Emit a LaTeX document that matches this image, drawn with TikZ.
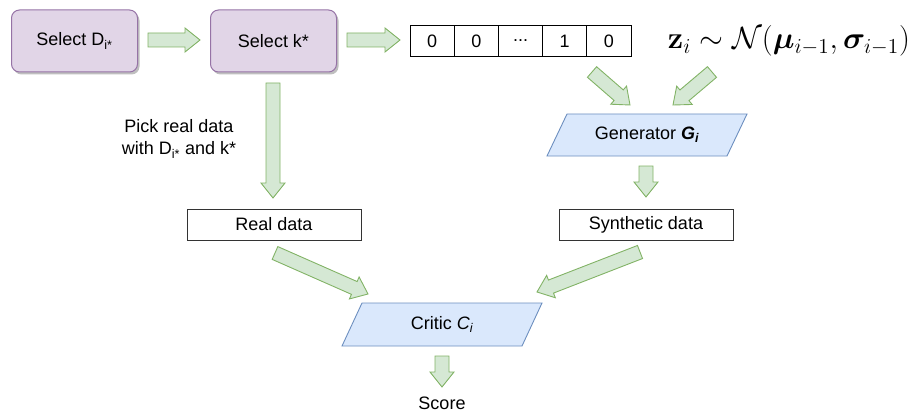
\documentclass[tikz,border=0pt]{standalone}
\usepackage{amsmath,bm}
\usepackage[no-math]{fontspec}
\setmainfont{Liberation Sans}
\usetikzlibrary{calc,shadows}
\definecolor{purfill}{HTML}{E1D5E7}
\definecolor{purline}{HTML}{9673A6}
\definecolor{bluefill}{HTML}{DAE8FC}
\definecolor{blueline}{HTML}{6C8EBF}
\definecolor{grfill}{HTML}{D5E8D4}
\definecolor{grline}{HTML}{82B366}
\tikzset{
  selbox/.style={draw=purline, fill=purfill, line width=1pt, rounded corners=8pt,
    minimum width=126pt, minimum height=62pt,
    drop shadow={shadow xshift=2pt, shadow yshift=-2.5pt, opacity=0.25, fill=black}},
  cell/.style={draw=black, line width=0.9pt, minimum width=44.2pt, minimum height=31pt, inner sep=0pt},
  databox/.style={draw=black!80, line width=0.9pt, minimum width=174pt, minimum height=31pt, inner sep=0pt},
  para/.style={draw=blueline, fill=bluefill, line width=0.9pt},
  barrowstyle/.style={draw=grline, fill=grfill, line width=0.9pt, line join=miter},
  lbl/.style={inner sep=0pt, align=center}
}
\newcommand{\barrow}[2]{%
  \coordinate (ba-hb) at ($(#2)!15pt!(#1)$);
  \draw[barrowstyle] ($(#1)!7pt!90:(#2)$) -- ($(ba-hb)!7pt!-90:(#1)$) -- ($(ba-hb)!12pt!-90:(#1)$)
    -- (#2) -- ($(ba-hb)!12pt!90:(#1)$) -- ($(ba-hb)!7pt!90:(#1)$) -- ($(#1)!7pt!-90:(#2)$) -- cycle;}
\newcommand{\parashape}[3]{% center, half width, half height ; slant 10
  \draw[para] ($(#1)+(-#2-10,#3)$) -- ($(#1)+(#2-10,#3)$) -- ($(#1)+(#2+10,-#3)$) -- ($(#1)+(-#2+10,-#3)$) -- cycle;}
\begin{document}
\begin{tikzpicture}[x=1pt, y=-1pt, font=\fontsize{18}{22}\selectfont]
\useasboundingbox (0,0) rectangle (914,412);
% top boxes
\node[selbox] (seld) at (74.5,41) {Select D\textsubscript{i*}};
\node[selbox] (selk) at (273.5,41) {Select k*};
% array
\node[cell] (c1) at (432.1,41) {0};
\node[cell] (c2) at (476.3,41) {0};
\node[cell] (c3) at (520.5,41) {{.}{.}{.}};
\node[cell] (c4) at (564.7,41) {1};
\node[cell] (c5) at (608.9,41) {0};
% formula
\node[lbl] (formula) at (789,41) {\resizebox{242pt}{!}{$\mathbf{z}_i \sim \mathcal{N}(\bm{\mu}_{i-1},\bm{\sigma}_{i-1})$}};
% generator
\coordinate (genc) at (647,135);
\parashape{genc}{90}{21}
\node[lbl] (gen) at (genc) {Generator \textbf{\textit{G\textsubscript{i}}}};
% data boxes
\node[databox] (real) at (274,224.5) {Real data};
\node[databox] (synth) at (646,224.5) {Synthetic data};
\node[lbl] (pick) at (179,139) {Pick real data\\with D\textsubscript{i*} and k*};
% critic
\coordinate (critc) at (442,324.5);
\parashape{critc}{90}{21.5}
\node[lbl] (critic) at (critc) {Critic \textit{C\textsubscript{i}}};
\node[lbl] (score) at (442,403) {Score};
% arrow endpoints
\coordinate (a1s) at (148,40); \coordinate (a1e) at (200,40);
\coordinate (a2s) at (347,40); \coordinate (a2e) at (400,40);
\coordinate (a3s) at (273,83); \coordinate (a3e) at (273,198);
\coordinate (a4s) at (592,72); \coordinate (a4e) at (630,105);
\coordinate (a5s) at (712,72); \coordinate (a5e) at (673,105);
\coordinate (a6s) at (646,166); \coordinate (a6e) at (646,197);
\coordinate (a7s) at (275,253); \coordinate (a7e) at (368,294);
\coordinate (a8s) at (640,252); \coordinate (a8e) at (537,292);
\coordinate (a9s) at (442,356); \coordinate (a9e) at (442,387);
\barrow{a1s}{a1e}
\barrow{a2s}{a2e}
\barrow{a3s}{a3e}
\barrow{a4s}{a4e}
\barrow{a5s}{a5e}
\barrow{a6s}{a6e}
\barrow{a7s}{a7e}
\barrow{a8s}{a8e}
\barrow{a9s}{a9e}
\end{tikzpicture}
\end{document}
